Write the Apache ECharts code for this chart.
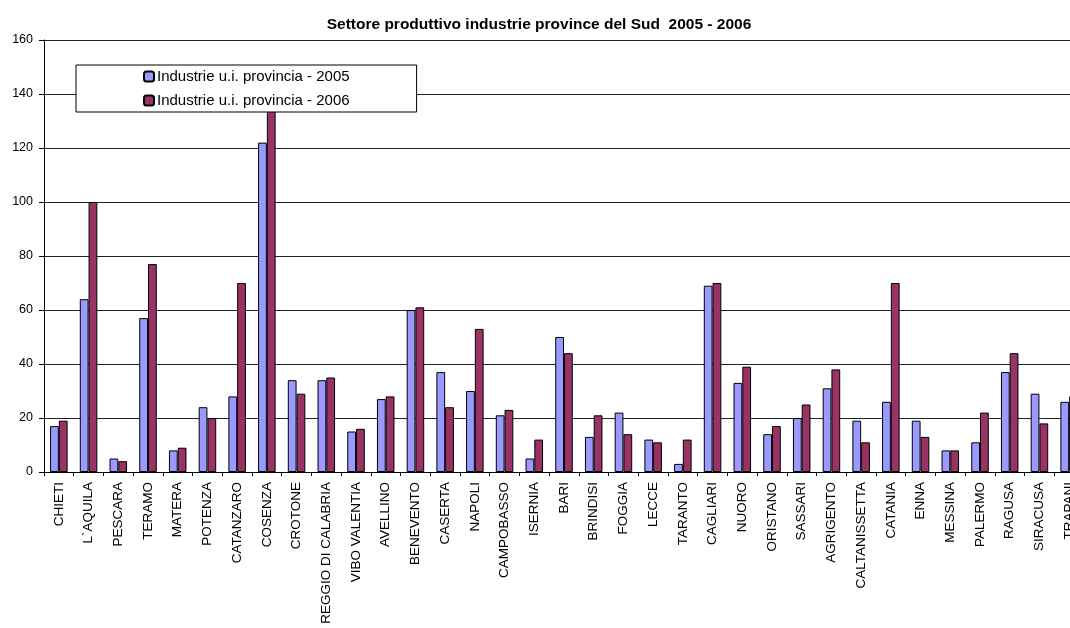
<!DOCTYPE html>
<html><head><meta charset="utf-8">
<script src="https://cdn.jsdelivr.net/npm/echarts@6/dist/echarts.min.js"></script>
<style>html,body{margin:0;padding:0;background:#fff;overflow:hidden;width:1070px;height:628px}#c{width:1100px;height:628px}</style>
</head><body><div id="c"></div>
<script>
const categories = ['CHIETI','L`AQUILA','PESCARA','TERAMO','MATERA','POTENZA','CATANZARO','COSENZA','CROTONE','REGGIO DI CALABRIA','VIBO VALENTIA','AVELLINO','BENEVENTO','CASERTA','NAPOLI','CAMPOBASSO','ISERNIA','BARI','BRINDISI','FOGGIA','LECCE','TARANTO','CAGLIARI','NUORO','ORISTANO','SASSARI','AGRIGENTO','CALTANISSETTA','CATANIA','ENNA','MESSINA','PALERMO','RAGUSA','SIRACUSA','TRAPANI'];
const values2005 = [17,64,5,57,8,24,28,122,34,34,15,27,60,37,30,21,5,50,13,22,12,3,69,33,14,20,31,19,26,19,8,11,37,29,26];
const values2006 = [19,100,4,77,9,20,70,140,29,35,16,28,61,24,53,23,12,44,21,14,11,12,70,39,17,25,38,11,70,13,8,22,44,18,28];
const seriesNames = ['Industrie u.i. provincia - 2005','Industrie u.i. provincia - 2006'];
const yTicks = {min:0, max:160, interval:20};
const FONT = 'Liberation Sans, Arial, sans-serif';

const chart = echarts.init(document.getElementById('c'), null, {renderer:'canvas'});
chart.setOption({
  animation:false,
  backgroundColor:'#fff',
  title:{text:'Settore produttivo industrie province del Sud  2005 - 2006', left:534, textAlign:'center', top:12,
    textStyle:{fontFamily:FONT, fontSize:15.5, fontWeight:'bold', color:'#000'}},
  legend:{orient:'vertical', left:76, top:65, itemWidth:10, itemHeight:10, itemGap:9,
    padding:[4,67,4,67], backgroundColor:'#fff', borderColor:'#000', borderWidth:1,
    textStyle:{fontFamily:FONT, fontSize:15, color:'#000', padding:[0,0,0,-2]},
    data:seriesNames, z:10},
  grid:{left:44, top:40, width:1040, height:432},
  xAxis:{type:'category', data:categories,
    axisLine:{lineStyle:{color:'#000', width:1}},
    axisTick:{show:true, length:4, lineStyle:{color:'#000'}},
    axisLabel:{rotate:90, interval:0, margin:10, fontFamily:FONT, fontSize:13.5, color:'#000'}},
  yAxis:{type:'value', min:yTicks.min, max:yTicks.max, interval:yTicks.interval,
    axisLine:{show:true, lineStyle:{color:'#000', width:1}},
    axisTick:{show:true, length:5, lineStyle:{color:'#000'}},
    splitLine:{lineStyle:{color:'#222', width:1}},
    axisLabel:{fontFamily:FONT, fontSize:12.5, color:'#000', margin:11}},
  series:[
    {name:seriesNames[0], type:'bar', data:values2005, barGap:'0%', barCategoryGap:'41%',
      itemStyle:{color:'#9999FF', borderColor:'#000', borderWidth:1}},
    {name:seriesNames[1], type:'bar', data:values2006,
      itemStyle:{color:'#993366', borderColor:'#000', borderWidth:1}}
  ]
});
</script></body></html>
